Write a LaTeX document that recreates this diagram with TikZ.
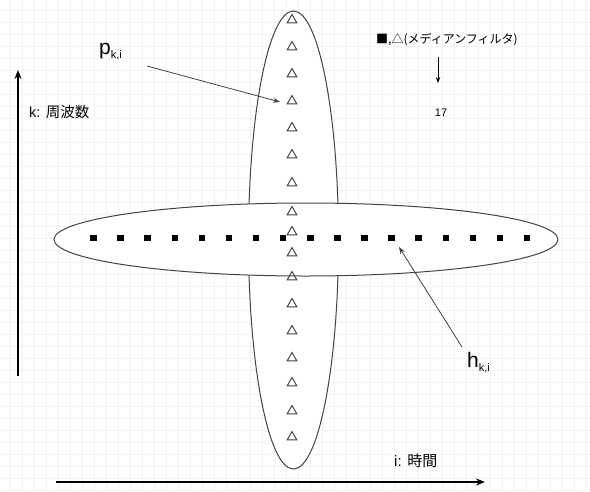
\documentclass[tikz,border=0pt]{standalone}
\usepackage{fontspec}
\setmainfont{Liberation Sans}
\newfontfamily\cjk{Noto Sans CJK JP}
\usetikzlibrary{shapes.geometric,arrows.meta}
\definecolor{gridc}{HTML}{F1F1F1}
\definecolor{linec}{HTML}{444444}
\tikzset{
  tri/.style={regular polygon,regular polygon sides=3,draw=linec,line width=1pt,minimum size=11pt,inner sep=0pt},
  sq/.style={rectangle,fill=black,minimum size=6.5pt,inner sep=0pt},
  ell/.style={draw=linec,line width=1pt,fill=white},
  axis/.style={line width=1.8pt,-{Stealth[length=9pt,width=7pt]}},
  pointer/.style={line width=0.8pt,linec,-{Stealth[length=7pt,width=5pt]}},
  lbl/.style={inner sep=0pt,anchor=center}
}
\begin{document}
\begin{tikzpicture}[x=1pt,y=-1pt]
\useasboundingbox[fill=white] (0,0) rectangle (590,491);
% grid
\foreach \gx in {10,22,...,586} {\draw[gridc,line width=0.5pt] (\gx,0) -- (\gx,491);}
\foreach \gy in {10,22,...,490} {\draw[gridc,line width=0.5pt] (0,\gy) -- (590,\gy);}
% ellipses
\node[ell,ellipse,minimum width=90pt,minimum height=458pt,inner sep=0pt] (vell) at (293.5,240) {};
\node[ell,ellipse,minimum width=504pt,minimum height=73pt,inner sep=0pt] (hell) at (306,239.5) {};
% squares
\foreach \i in {1,...,17} {\node[sq] (s\i) at ({93.5+27.1*(\i-1)},238) {};}
% triangles
\foreach \ty [count=\i] in {20,47,74,101,128,155,183,212,232,253,277,304,331,358,383,411,437}
  {\node[tri] (t\i) at (292,\ty) {};}
% axes
\coordinate (kbot) at (18,376);
\coordinate (ktop) at (18,70);
\draw[axis] (kbot) -- (ktop);
\coordinate (ileft) at (56,482);
\coordinate (iright) at (485,482);
\draw[axis] (ileft) -- (iright);
\node[lbl,anchor=west,font=\fontsize{14.5pt}{16pt}\selectfont] (klab) at (29,112) {k: {\cjk 周波数}};
\node[lbl,anchor=west,font=\fontsize{15pt}{17pt}\selectfont] (ilab) at (394,461) {i: {\cjk 時間}};
% p label
\node[lbl,anchor=base west,font=\fontsize{21pt}{24pt}\selectfont] (plab) at (99,54) {p\raisebox{-4pt}{\fontsize{11pt}{13pt}\selectfont k,i}};
\coordinate (pstart) at (147,66);
\coordinate (pend) at (280,102);
\draw[pointer] (pstart) -- (pend);
% h label
\node[lbl,anchor=base west,font=\fontsize{21pt}{24pt}\selectfont] (hlab) at (467,367) {h\raisebox{-4pt}{\fontsize{11pt}{13pt}\selectfont k,i}};
\coordinate (hstart) at (462,347);
\coordinate (hend) at (399,247);
\draw[pointer] (hstart) -- (hend);
% top right note
\node[lbl,font=\fontsize{12pt}{14pt}\selectfont\cjk] (note) at (447,40) {■,△(メディアンフィルタ)};
\coordinate (nstart) at (438,57);
\coordinate (nend) at (438,83);
\draw[line width=0.8pt,-{Stealth[length=6pt,width=4.5pt]}] (nstart) -- (nend);
\node[lbl,font=\fontsize{11pt}{13pt}\selectfont] (seventeen) at (441,113) {17};
\end{tikzpicture}
\end{document}
